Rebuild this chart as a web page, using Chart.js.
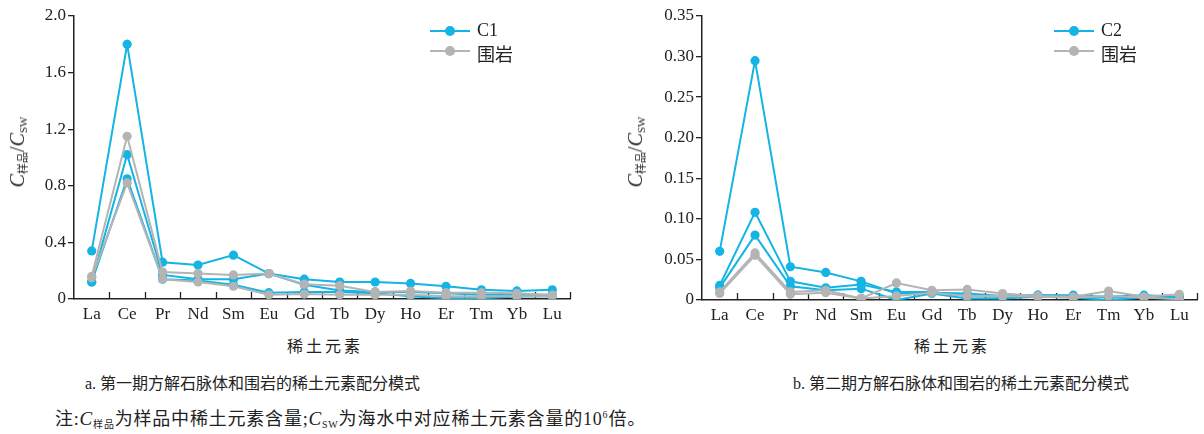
<!DOCTYPE html>
<html>
<head>
<meta charset="utf-8">
<script src="https://cdn.jsdelivr.net/npm/chart.js@4.4.1/dist/chart.umd.min.js"></script>
<style>
  html, body { margin: 0; padding: 0; background: #fff; }
  #wrap { position: relative; width: 1204px; height: 434px; background: #fff; overflow: hidden;
          font-family: "Liberation Serif", "Noto Sans CJK SC", serif; color: #222; }
  canvas { position: absolute; top: 0; }
  .abs { position: absolute; white-space: nowrap; }
  .ytitle { position: absolute; width: 0; height: 0; }
  .ytitle span { position: absolute; left: 0; top: 0; transform: translate(-50%, -50%) rotate(-90deg);
                 white-space: nowrap; font-size: 20px; font-family: "Liberation Serif", serif; }
  .ytitle sub { font-size: 11px; font-family: "Liberation Serif", "Noto Sans CJK SC", serif; vertical-align: -3px; }
  .xtitle { font-size: 16px; letter-spacing: 3px; font-family: "Noto Sans CJK SC", sans-serif; transform: translate(-50%, -50%); }
  .cap { font-size: 16px; font-family: "Liberation Serif", "Noto Sans CJK SC", serif; transform: translateY(-50%); }
  .note { font-size: 18px; font-family: "Liberation Serif", "Noto Sans CJK SC", serif; transform: translateY(-50%); letter-spacing: 0.8px; }
  .note i { font-size: 19px; }
  .note sub { font-size: 10px; vertical-align: -3px; }
  .note sup { font-size: 10px; vertical-align: 7px; }
  .leg { position: absolute; }
  .leg .row { position: absolute; left: 0; height: 20px; width: 120px; }
  .leg .ln { position: absolute; left: 0; top: 9px; width: 40px; height: 2px; }
  .leg .dot { position: absolute; left: 15px; top: 5px; width: 10px; height: 10px; border-radius: 50%; }
  .leg .tx { position: absolute; left: 47px; top: -1px; font-size: 18px; font-family: "Liberation Serif", "Noto Sans CJK SC", serif; }
</style>
</head>
<body>
<div id="wrap">
  <canvas id="cA" width="600" height="330" style="left:0px"></canvas>
  <canvas id="cB" width="604" height="330" style="left:600px"></canvas>

  <div class="ytitle" style="left:18px; top:152px;"><span><i>C</i><sub>样品</sub>/<i>C</i><sub>SW</sub></span></div>
  <div class="ytitle" style="left:636px; top:152px;"><span><i>C</i><sub>样品</sub>/<i>C</i><sub>SW</sub></span></div>

  <div class="abs xtitle" style="left:325px; top:345px;">稀土元素</div>
  <div class="abs xtitle" style="left:952px; top:345px;">稀土元素</div>

  <div class="abs cap" style="left:85px; top:382px;">a. 第一期方解石脉体和围岩的稀土元素配分模式</div>
  <div class="abs cap" style="left:793px; top:382px;">b. 第二期方解石脉体和围岩的稀土元素配分模式</div>

  <div class="abs note" style="left:55px; top:417px;">注:<i>C</i><sub>样品</sub>为样品中稀土元素含量;<i>C</i><sub>SW</sub>为海水中对应稀土元素含量的10<sup>6</sup>倍。</div>

  <div class="leg" style="left:430px; top:21px;">
    <div class="row" style="top:0px;"><div class="ln" style="background:#14b4e4"></div><div class="dot" style="background:#14b4e4"></div><div class="tx">C1</div></div>
    <div class="row" style="top:20px;"><div class="ln" style="background:#b4b4b4"></div><div class="dot" style="background:#b4b4b4"></div><div class="tx">围岩</div></div>
  </div>
  <div class="leg" style="left:1054px; top:21px;">
    <div class="row" style="top:0px;"><div class="ln" style="background:#14b4e4"></div><div class="dot" style="background:#14b4e4"></div><div class="tx">C2</div></div>
    <div class="row" style="top:20px;"><div class="ln" style="background:#b4b4b4"></div><div class="dot" style="background:#b4b4b4"></div><div class="tx">围岩</div></div>
  </div>
</div>

<script>
// ---------- data ----------
const elements = ['La','Ce','Pr','Nd','Sm','Eu','Gd','Tb','Dy','Ho','Er','Tm','Yb','Lu'];

// Chart a: first-stage calcite veins (C1) and host rock
const c1_s1 = [0.34, 1.80, 0.26, 0.24, 0.31, 0.18, 0.14, 0.12, 0.12, 0.11, 0.09, 0.065, 0.057, 0.065];
const c1_s2 = [0.12, 1.02, 0.17, 0.14, 0.14, 0.18, 0.10, 0.06, 0.05, 0.05, 0.04, 0.03, 0.03, 0.03];
const c1_s3 = [0.12, 0.85, 0.14, 0.13, 0.10, 0.045, 0.05, 0.05, 0.04, 0.02, 0.005, 0.005, 0.017, 0.02];
const rockA_s1 = [0.16, 1.15, 0.19, 0.18, 0.17, 0.18, 0.105, 0.094, 0.05, 0.056, 0.045, 0.045, 0.04, 0.028];
const rockA_s2 = [0.15, 0.82, 0.14, 0.12, 0.09, 0.03, 0.035, 0.03, 0.03, 0.03, 0.02, 0.02, 0.02, 0.02];

// Chart b: second-stage calcite veins (C2) and host rock
const c2_s1 = [0.060, 0.295, 0.041, 0.034, 0.023, 0.008, 0.009, 0.008, 0.005, 0.006, 0.005, 0.004, 0.006, 0.004];
const c2_s2 = [0.018, 0.108, 0.023, 0.015, 0.019, 0.010, 0.010, 0.005, 0.004, 0.006, 0.006, 0.003, 0.005, 0.003];
const c2_s3 = [0.015, 0.080, 0.017, 0.012, 0.014, 0.000, 0.008, 0.002, 0.002, 0.004, 0.003, 0.000, 0.003, 0.002];
const rockB_s1 = [0.010, 0.058, 0.010, 0.012, 0.002, 0.021, 0.012, 0.013, 0.008, 0.005, 0.004, 0.011, 0.004, 0.007];
const rockB_s2 = [0.008, 0.055, 0.007, 0.009, 0.002, 0.005, 0.009, 0.005, 0.005, 0.004, 0.003, 0.005, 0.003, 0.001];

const yTickValsA = [0, 0.4, 0.8, 1.2, 1.6, 2.0];
const yTickLabelsA = ['0', '0.4', '0.8', '1.2', '1.6', '2.0'];
const yTickValsB = [0, 0.05, 0.10, 0.15, 0.20, 0.25, 0.30, 0.35];
const yTickLabelsB = ['0', '0.05', '0.10', '0.15', '0.20', '0.25', '0.30', '0.35'];

// ---------- styling ----------
const BLUE = '#14b4e4';
const GRAY = '#b4b4b4';
const AXIS = '#222';
const FONT = { family: '"Liberation Serif", serif', size: 17 };

function ds(data, color, order) {
  return {
    data: data, borderColor: color, backgroundColor: color,
    pointBackgroundColor: color, pointBorderColor: color,
    pointRadius: 4.6, pointBorderWidth: 0, borderWidth: 2,
    tension: 0, order: order
  };
}

const innerTicks = {
  id: 'innerTicks',
  beforeDatasetsDraw(chart) {
    const xs = chart.scales.x;
    const ctx = chart.ctx;
    const n = chart.data.labels.length;
    const half = (xs.getPixelForValue(1) - xs.getPixelForValue(0)) / 2;
    const yb = chart.chartArea.bottom;
    ctx.save();
    ctx.strokeStyle = AXIS;
    ctx.lineWidth = 1.3;
    for (let i = 1; i <= n; i++) {
      const x = Math.round(xs.getPixelForValue(i - 1) + half) + 0.5;
      ctx.beginPath();
      ctx.moveTo(x, yb);
      ctx.lineTo(x, yb - 7);
      ctx.stroke();
    }
    ctx.restore();
  }
};

function makeChart(id, datasets, yMax, tickVals, tickLabels, yWidth, xHeight, padRight) {
  return new Chart(document.getElementById(id), {
    type: 'line',
    data: { labels: elements, datasets: datasets },
    options: {
      responsive: false, animation: false, devicePixelRatio: 1,
      layout: { padding: { left: 0, top: 16, right: padRight, bottom: 0 } },
      plugins: { legend: { display: false }, tooltip: { enabled: false } },
      scales: {
        x: {
          type: 'category', offset: true,
          grid: { display: true, drawOnChartArea: false, drawTicks: false, offset: true },
          border: { display: true, color: AXIS, width: 1.5 },
          ticks: { color: AXIS, font: FONT, padding: 5, maxRotation: 0, autoSkip: false },
          afterFit: s => { s.height = xHeight; }
        },
        y: {
          min: 0, max: yMax,
          grid: { display: true, drawOnChartArea: false, drawTicks: true, tickLength: 6, color: AXIS, lineWidth: 1.3 },
          border: { display: true, color: AXIS, width: 1.5 },
          ticks: { color: AXIS, font: FONT, padding: 2, callback: (v, i) => tickLabels[i] },
          afterBuildTicks: s => { s.ticks = tickVals.map(v => ({ value: v })); },
          afterFit: s => { s.width = yWidth; }
        }
      }
    },
    plugins: [innerTicks]
  });
}

makeChart('cA', [
  ds(c1_s1, BLUE, 1), ds(c1_s2, BLUE, 1), ds(c1_s3, BLUE, 1),
  ds(rockA_s1, GRAY, 0), ds(rockA_s2, GRAY, 0)
], 2.0, yTickValsA, yTickLabelsA, 74, 31, 30);

makeChart('cB', [
  ds(c2_s1, BLUE, 1), ds(c2_s2, BLUE, 1), ds(c2_s3, BLUE, 1),
  ds(rockB_s1, GRAY, 0), ds(rockB_s2, GRAY, 0)
], 0.35, yTickValsB, yTickLabelsB, 102, 30, 7);
</script>
</body>
</html>
